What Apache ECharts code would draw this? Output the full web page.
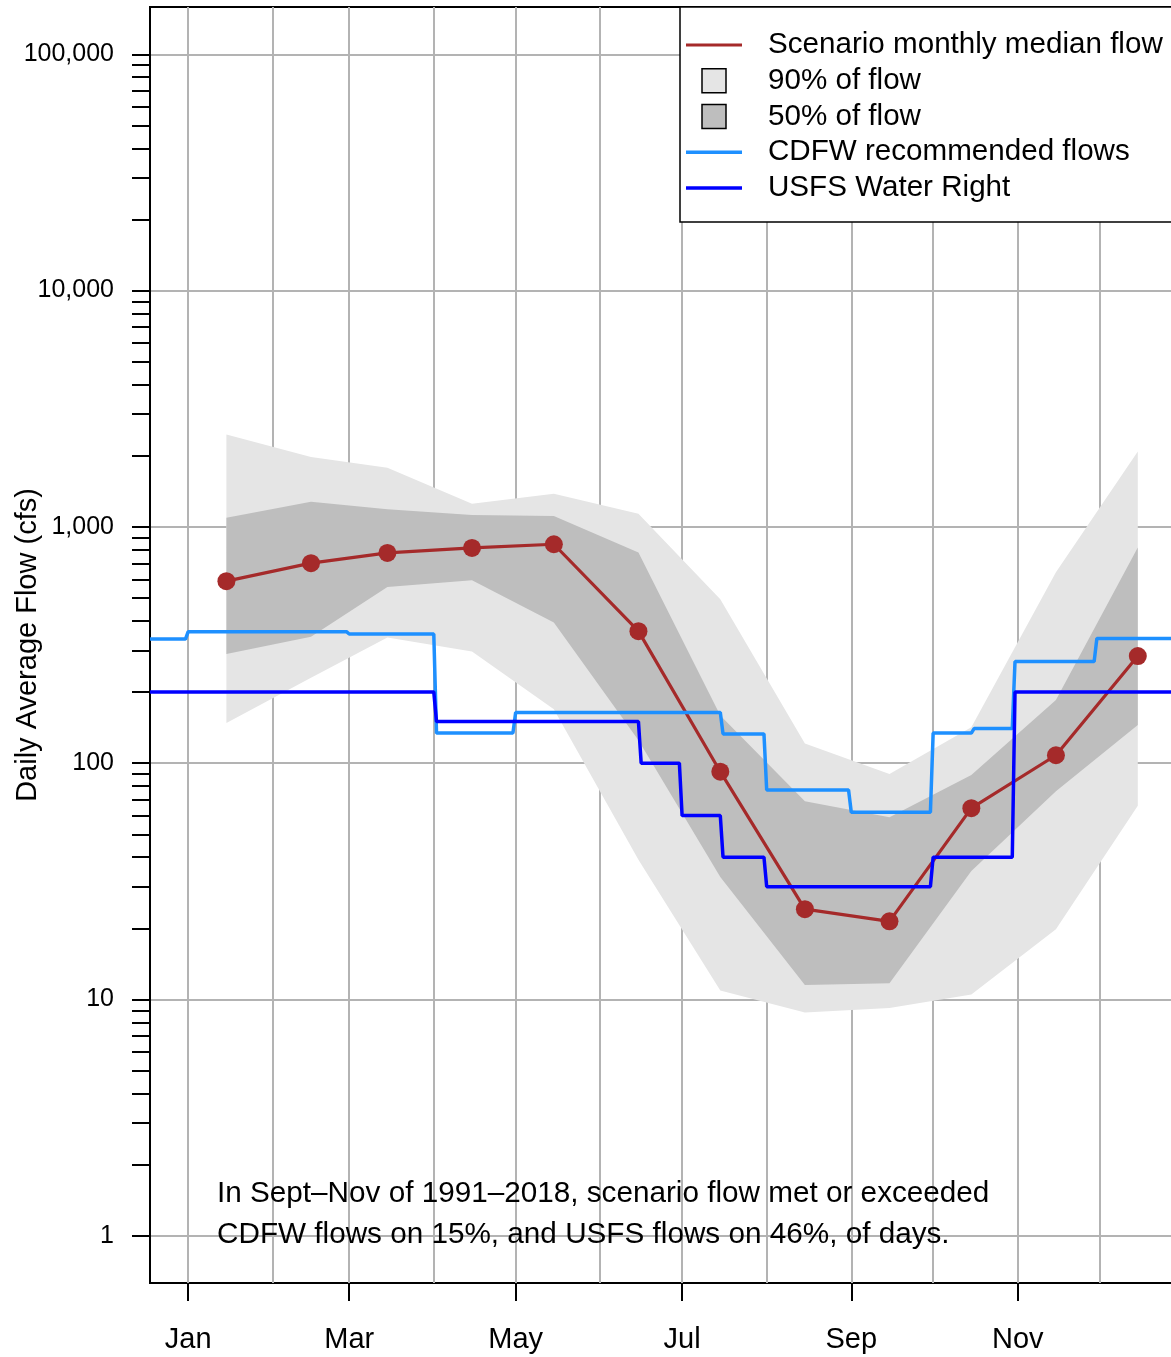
<!DOCTYPE html>
<html><head><meta charset="utf-8">
<script src="https://cdn.jsdelivr.net/npm/echarts@6/dist/echarts.min.js"></script>
<style>html,body{margin:0;padding:0;background:#fff}#c{width:1171px;height:1357px}</style>
</head><body><div id="c"></div>
<script>
// x positions (day of year) of the monthly summary points
const monthDays = [29, 60, 88, 119, 149, 180, 210, 241, 272, 302, 333, 363];
const medianFlow = [589, 702, 776, 814, 844, 362, 92, 24.1, 21.4, 64.5, 108, 284];
const upper90 = [2461, 1974, 1779, 1253, 1380, 1137, 494, 121, 90, 142, 642, 2084];
const lower90 = [148, 230, 340, 297, 169, 39, 10.9, 8.8, 9.2, 10.5, 19.8, 66];
const upper50 = [1094, 1277, 1186, 1122, 1112, 778, 159, 69, 59, 89, 185, 817];
const lower50 = [290, 343, 557, 595, 394, 125, 33, 11.5, 11.7, 35, 76, 145];
// step segments: [first day, last day, cfs]
const cdfwSteps = [[1,14,335],[15,73,360],[74,105,352],[106,134,134],[135,210,164],[211,226,133],[227,257,77],[258,287,62],[288,302,134],[303,317,140],[318,347,269],[348,380,337]];
const usfsSteps = [[1,105,200],[106,180,150],[181,195,100],[196,210,60],[211,226,40],[227,287,30],[288,317,40],[318,380,200]];
// axes
const gridDays = [15, 46, 74, 105, 135, 166, 196, 227, 258, 288, 319, 349];
const tickDays = [15, 74, 135, 196, 258, 319];
const tickLabels = ['Jan', 'Mar', 'May', 'Jul', 'Sep', 'Nov'];
const yMajor = [1, 10, 100, 1000, 10000, 100000];
const yMinorMultipliers = [2, 3, 4, 5, 6, 7, 8, 9];

const FONT = "'Liberation Sans', Arial, Helvetica, sans-serif";
const yMinor = [];
yMajor.slice(0, -1).forEach(d => yMinorMultipliers.forEach(m => yMinor.push(d * m)));
const yMin = Math.pow(10, -0.2), yMax = Math.pow(10, 5.2);

const pairs = (xs, ys) => xs.map((x, i) => [x, ys[i]]);
function stepData(steps) {
  const out = [];
  steps.forEach(s => { out.push([s[0], s[2]]); out.push([s[1], s[2]]); });
  return out;
}
const bandRows = (lo, hi) => monthDays.map((x, i) => [x, lo[i], hi[i]]);

// one polygon per band, drawn from all rows through the axes
function bandRenderer(color) {
  return function (params, api) {
    if (params.dataIndexInside !== 0) return null;
    const n = params.dataInsideLength;
    const top = [], bottom = [];
    for (let i = 0; i < n; i++) {
      const x = api.value(0, i);
      top.push(api.coord([x, api.value(2, i)]));
      bottom.push(api.coord([x, api.value(1, i)]));
    }
    return {
      type: 'polygon',
      shape: { points: top.concat(bottom.reverse()) },
      style: { fill: color, stroke: null }
    };
  };
}

const chart = echarts.init(document.getElementById('c'), null, { renderer: 'canvas' });
chart.setOption({
  animation: false,
  textStyle: { fontFamily: FONT },
  grid: { left: 150, right: -5, top: 7, bottom: 74, containLabel: false, outerBoundsMode: 'none',
    show: true, borderColor: '#000', borderWidth: 2, backgroundColor: 'transparent' },
  title: {
    text: 'In Sept\u2013Nov of 1991\u20132018, scenario flow met or exceeded\nCDFW flows on 15%, and USFS flows on 46%, of days.',
    left: 217, top: 1174, padding: 0,
    textStyle: { fontSize: 29.7, fontWeight: 'normal', color: '#000', lineHeight: 40.5, fontFamily: FONT }
  },
  legend: {
    orient: 'vertical', left: 680, top: 7, selectedMode: false,
    padding: [23, 30, 19, 6],
    itemWidth: 56, itemHeight: 24, itemGap: 5.75,
    borderColor: '#000', borderWidth: 1.5, backgroundColor: '#fff',
    textStyle: { fontSize: 29.6, color: '#000', fontFamily: FONT, lineHeight: 29, padding: [0, 0, 0, 21] },
    data: [
      { name: 'Scenario monthly median flow', icon: 'path://M0,0H56V3H0Z' },
      { name: '90% of flow', icon: 'path://M0,0H24V24H0Z', itemStyle: { color: '#E5E5E5', borderColor: '#000', borderWidth: 1.5 } },
      { name: '50% of flow', icon: 'path://M0,0H24V24H0Z', itemStyle: { color: '#BEBEBE', borderColor: '#000', borderWidth: 1.5 } },
      { name: 'CDFW recommended flows', icon: 'path://M0,0H56V3.5H0Z' },
      { name: 'USFS Water Right', icon: 'path://M0,0H56V3.5H0Z' }
    ]
  },
  xAxis: [
    { type: 'value', min: 1, max: 377, position: 'bottom',
      axisLine: { show: false }, axisTick: { show: false, customValues: gridDays }, axisLabel: { show: false },
      splitLine: { show: true, lineStyle: { color: '#B3B3B3', width: 2 } } },
    { type: 'value', min: 1, max: 377, position: 'bottom',
      axisLine: { show: false },
      axisTick: { show: true, customValues: tickDays, length: 18, lineStyle: { color: '#000', width: 2 } },
      axisLabel: { customValues: tickDays, fontSize: 29, color: '#000', margin: 42, fontFamily: FONT,
        formatter: v => tickLabels[tickDays.indexOf(Math.round(v))] || '' },
      splitLine: { show: false } }
  ],
  yAxis: [
    { type: 'log', logBase: 10, min: yMin, max: yMax, position: 'left',
      axisLine: { show: true, lineStyle: { color: '#000', width: 2 } },
      axisTick: { show: true, customValues: yMajor, length: 18, lineStyle: { color: '#000', width: 2 } },
      axisLabel: { customValues: yMajor, fontSize: 25, color: '#000', margin: 36, fontFamily: FONT,
        formatter: v => Math.round(v).toLocaleString('en-US') },
      splitLine: { show: true, lineStyle: { color: '#B3B3B3', width: 2 } },
      name: 'Daily Average Flow (cfs)', nameLocation: 'middle', nameGap: 108, nameMoveOverlap: false,
      nameTextStyle: { fontSize: 29, color: '#000', fontFamily: FONT } },
    { type: 'log', logBase: 10, min: yMin, max: yMax, position: 'left',
      axisLine: { show: false },
      axisTick: { show: true, customValues: yMinor, length: 18, lineStyle: { color: '#000', width: 2 } },
      axisLabel: { show: false }, splitLine: { show: false } }
  ],
  series: [
    { name: '90% of flow', type: 'custom', renderItem: bandRenderer('#E5E5E5'), data: bandRows(lower90, upper90),
      encode: { x: 0, y: [1, 2] }, itemStyle: { color: '#E5E5E5' }, silent: true, clip: true, z: 2 },
    { name: '50% of flow', type: 'custom', renderItem: bandRenderer('#BEBEBE'), data: bandRows(lower50, upper50),
      encode: { x: 0, y: [1, 2] }, itemStyle: { color: '#BEBEBE' }, silent: true, clip: true, z: 2 },
    { name: 'Scenario monthly median flow', type: 'line', data: pairs(monthDays, medianFlow),
      symbol: 'circle', symbolSize: 18, showSymbol: true,
      lineStyle: { color: '#A52A2A', width: 3.2 }, itemStyle: { color: '#A52A2A' }, z: 3 },
    { name: 'CDFW recommended flows', type: 'line', data: stepData(cdfwSteps), symbol: 'none',
      lineStyle: { color: '#1E90FF', width: 3.5 }, itemStyle: { color: '#1E90FF' }, z: 4 },
    { name: 'USFS Water Right', type: 'line', data: stepData(usfsSteps), symbol: 'none',
      lineStyle: { color: '#0000FF', width: 3.5 }, itemStyle: { color: '#0000FF' }, z: 5 }
  ]
});
</script></body></html>
